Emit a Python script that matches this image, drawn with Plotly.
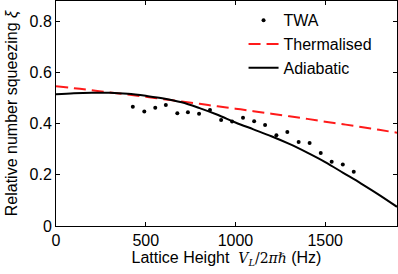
import plotly.graph_objects as go

# TWA simulation points
twa_x = [428, 492, 553, 612, 676, 735, 797, 858, 920, 981, 1042, 1104, 1165,
         1228, 1289, 1352, 1413, 1475, 1536, 1598, 1659]
twa_y = [0.466, 0.448, 0.462, 0.473, 0.441, 0.445, 0.439, 0.454, 0.415, 0.409,
         0.423, 0.410, 0.395, 0.355, 0.368, 0.329, 0.325, 0.286, 0.251, 0.241, 0.212]

# Curves sampled every 100 Hz
curve_x = [0, 100, 200, 300, 400, 500, 600, 700, 800, 900, 1000, 1100, 1200,
           1300, 1400, 1500, 1600, 1700, 1800, 1900]
thermal_y = [0.547, 0.539, 0.531, 0.522, 0.514, 0.505, 0.496, 0.487, 0.478, 0.468,
             0.459, 0.449, 0.439, 0.429, 0.419, 0.408, 0.398, 0.387, 0.376, 0.365]
adiabatic_y = [0.515, 0.519, 0.521, 0.521, 0.517, 0.509, 0.499, 0.484, 0.461, 0.435,
               0.405, 0.378, 0.351, 0.321, 0.287, 0.250, 0.208, 0.166, 0.122, 0.075]

x_ticks = [0, 500, 1000, 1500]
y_ticks = [0, 0.2, 0.4, 0.6, 0.8]
y_tick_labels = ["0", "0.2", "0.4", "0.6", "0.8"]

FONT = "Liberation Sans, Arial, sans-serif"
MATH = "DejaVu Serif"

fig = go.Figure()
fig.add_trace(go.Scatter(x=twa_x, y=twa_y, mode="markers", name="TWA",
                         marker=dict(color="black", size=4)))
fig.add_trace(go.Scatter(x=curve_x, y=thermal_y, mode="lines", name="Thermalised",
                         line=dict(color="#ff1a1a", width=2, dash="12px,6px", shape="spline")))
fig.add_trace(go.Scatter(x=curve_x, y=adiabatic_y, mode="lines", name="Adiabatic",
                         line=dict(color="black", width=2, shape="spline")))

axis_common = dict(showline=True, linecolor="black", linewidth=1, mirror="allticks",
                   ticks="inside", ticklen=4, tickcolor="black", showgrid=False,
                   zeroline=False, automargin=False,
                   tickfont=dict(family=FONT, size=16, color="black"))

xtitle = ("Lattice Height  <span style='font-family:" + MATH + ";font-size:14px'>"
          "<i>V<sub>L</sub></i>/2<i>πℏ</i></span> (Hz)")

fig.update_layout(
    width=398, height=274,
    margin=dict(l=56, r=1, t=1, b=48),
    paper_bgcolor="white", plot_bgcolor="white",
    font=dict(family=FONT, size=16, color="black"),
    showlegend=True,
    legend=dict(x=0.55, y=0.99, xanchor="left", yanchor="top",
                bgcolor="rgba(0,0,0,0)", font=dict(family=FONT, size=16),
                tracegroupgap=0, itemwidth=30),
    xaxis=dict(range=[0, 1900], tickvals=x_ticks,
               title=dict(text=xtitle, standoff=2, font=dict(family=FONT, size=16)),
               **axis_common),
    yaxis=dict(range=[0, 0.88], tickvals=y_ticks, ticktext=y_tick_labels,
               title=dict(text="Relative number squeezing <i>ξ</i>", standoff=7,
                          font=dict(family=FONT, size=16)),
               **axis_common),
)

fig.write_html("out.html", config={"displayModeBar": False, "staticPlot": True})

# remove the browser's default page margin so the figure sits at the window origin
with open("out.html", encoding="utf-8") as f:
    html = f.read()
html = html.replace("<body>", "<body style=\"margin:0;padding:0;overflow:hidden\">", 1)
with open("out.html", "w", encoding="utf-8") as f:
    f.write(html)
